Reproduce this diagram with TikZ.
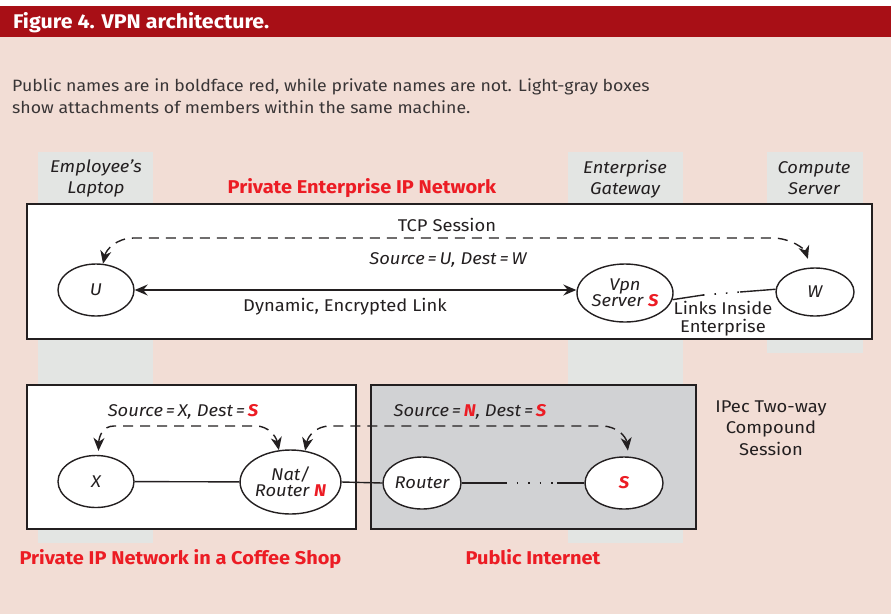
\documentclass[tikz,border=0pt]{standalone}
\usepackage{fontspec}
\setmainfont{Fira Sans}[FakeStretch=1.08]
\usetikzlibrary{shapes.geometric,arrows.meta}
\definecolor{pinkbg}{HTML}{F2DDD5}
\definecolor{barred}{HTML}{A80F16}
\definecolor{colgray}{HTML}{E3E5E3}
\definecolor{boxgray}{HTML}{D1D2D4}
\definecolor{pubred}{HTML}{EC1C24}
\definecolor{ink}{HTML}{231F20}
\newcommand\setfs[1]{\fontsize{#1}{#1}\selectfont}
\newcommand\pub[1]{\textcolor{pubred}{\textbf{\textit{#1}}}}
\tikzset{
  member/.style={ellipse, draw=ink, line width=1.4pt, fill=white, inner sep=0pt,
    align=center, font=\setfs{17}\itshape, text=ink},
  netbox/.style={draw=ink, line width=1.4pt, inner sep=0pt},
  plain/.style={font=\setfs{17}, text=ink, inner sep=0pt},
  captext/.style={font=\setfs{16.4}, text=ink!90, inner sep=0pt, anchor=base west},
  slanted/.style={font=\setfs{17}\itshape, text=ink, inner sep=0pt},
  netname/.style={font=\setfs{18.5}\bfseries, text=pubred, inner sep=0pt, anchor=base},
  link/.style={draw=ink, line width=1.4pt},
  dotlink/.style={draw=ink, line width=1.6pt, dash pattern=on 1.5pt off 10pt},
  sess/.style={draw=ink, line width=1.4pt, dash pattern=on 10pt off 7pt,
    {Stealth[length=13pt,width=11pt,inset=4pt]}-{Stealth[length=13pt,width=11pt,inset=4pt]}},
  both/.style={{Stealth[length=13pt,width=11pt,inset=4.5pt]}-{Stealth[length=13pt,width=11pt,inset=4.5pt]}}
}
\begin{document}
\begin{tikzpicture}[x=1pt,y=-1pt]
\useasboundingbox (0,0) rectangle (891,614);
\fill[white] (0,0) rectangle (891,614);
\fill[pinkbg] (0,37) rectangle (891,614);
\fill[barred] (0,6) rectangle (891,37);
\node[anchor=base west, inner sep=0pt, text=white, font=\setfs{19.8}\bfseries] (title) at (13,28) {Figure 4. VPN architecture.};
\node[captext] (cap1) at (12,91) {Public names are in boldface red, while private names are not. Light-gray boxes};
\node[captext] (cap2) at (12,113) {show attachments of members within the same machine.};

% machine columns
\fill[colgray] (38,152) rectangle (153,543);
\fill[colgray] (568,152) rectangle (683,543);
\fill[colgray] (767,152) rectangle (863,353);

\node[slanted, anchor=base] (lap1) at (96,172) {Employee's};
\node[slanted, anchor=base] (lap2) at (96,193) {Laptop};
\node[slanted, anchor=base] (gw1) at (625,173) {Enterprise};
\node[slanted, anchor=base] (gw2) at (625,194) {Gateway};
\node[slanted, anchor=base] (cs1) at (814,173) {Compute};
\node[slanted, anchor=base] (cs2) at (814,194) {Server};
\node[netname] (entname) at (362,193) {Private Enterprise IP Network};

% network boxes
\node[netbox, fill=white, minimum width=845pt, minimum height=135pt] (entbox) at (449.5,271.5) {};
\node[netbox, fill=white, minimum width=329pt, minimum height=144pt] (cafebox) at (191.5,457) {};
\node[netbox, fill=boxgray, minimum width=325pt, minimum height=144pt] (inetbox) at (533.5,457) {};

% enterprise network members
\node[member, minimum width=76pt, minimum height=52pt] (U) at (96,290) {U};
\node[member, minimum width=96pt, minimum height=58pt] (Vpn) at (625,293) {Vpn\\[-1pt]Server \pub{S}};
\node[member, minimum width=78pt, minimum height=48pt] (W) at (815,292) {W};

\node[plain, anchor=base] (tcp) at (447,231) {TCP Session};
\node[slanted, anchor=base] (srcUW) at (448,264) {Source\,=\,U, Dest\,=\,W};
\node[plain, anchor=base] (dyn) at (345,311) {Dynamic, Encrypted Link};
\node[plain, anchor=base] (lie1) at (723,314) {Links Inside};
\node[plain, anchor=base] (lie2) at (723,332) {Enterprise};

\draw[link, both] (U.east) -- (U.east -| Vpn.west);
\coordinate (v1) at (703,295);
\coordinate (v2) at (740,292);
\draw[link] (Vpn.-8) -- (v1);
\draw[dotlink] (v1) -- (v2);
\draw[link] (v2) -- (W.176);

\coordinate (t1) at (134,238);
\coordinate (t2) at (772,238);
\draw[sess, shorten >=9pt] (U.75) .. controls (106,250) and (116,238) .. (t1) -- (t2)
  .. controls (792,238) and (805,250) .. (W.100);

% coffee shop and internet members
\node[member, minimum width=76pt, minimum height=52pt] (X) at (96,481.5) {X};
\node[member, minimum width=96pt, minimum height=64pt] (Nat) at (290.5,482) {Nat/\\[-1pt]Router \pub{N}};
\node[member, minimum width=78pt, minimum height=52pt] (Router) at (422,483) {Router};
\node[member, minimum width=78pt, minimum height=52pt] (S) at (624,483) {\pub{S}};

\draw[link] (X) -- (Nat);
\draw[link] (Nat.east) -- (Router.west);
\coordinate (r1) at (505,483);
\coordinate (r2) at (557,483);
\draw[link] (Router) -- (r1);
\draw[dotlink] (r1) -- (r2);
\draw[link] (r2) -- (S);

\node[slanted, anchor=base] (srcXS) at (183,416) {Source\,=\,X, Dest\,=\,\pub{S}};
\node[slanted, anchor=base] (srcNS) at (470,416) {Source\,=\,\pub{N}, Dest\,=\,\pub{S}};

\coordinate (b1) at (114,426);
\coordinate (b2) at (256,426);
\draw[sess, shorten <=4pt] (X.85) .. controls (99,436) and (103,426) .. (b1) -- (b2)
  .. controls (268,426) and (276,436) .. (Nat.110);
\coordinate (c1) at (330,426);
\coordinate (c2) at (602,426);
\draw[sess, shorten >=6pt] (Nat.65) .. controls (308,436) and (316,426) .. (c1) -- (c2)
  .. controls (616,426) and (626,436) .. (S.80);

\node[plain, anchor=base] (ipec1) at (771,412) {IPec Two-way};
\node[plain, anchor=base] (ipec2) at (771,433) {Compound};
\node[plain, anchor=base] (ipec3) at (771,455) {Session};

\node[netname] (cafename) at (180.5,564) {Private IP Network in a Coffee Shop};
\node[netname] (inetname) at (533,564) {Public Internet};
\end{tikzpicture}
\end{document}
